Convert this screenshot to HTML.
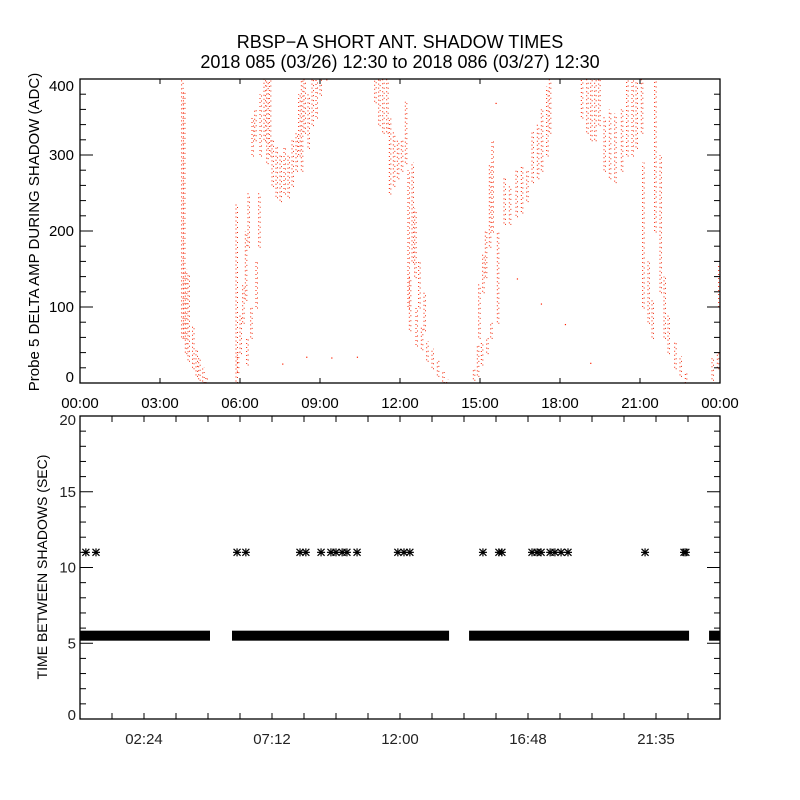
<!DOCTYPE html>
<html><head><meta charset="utf-8"><style>
body{margin:0;background:#fff;}
svg{display:block;font-family:"Liberation Sans",sans-serif;}
</style></head><body>
<svg id="chart" width="800" height="800" viewBox="0 0 800 800">
<defs><clipPath id="topClip"><rect x="80" y="79" width="640" height="304"/></clipPath></defs>
<text x="400" y="48" text-anchor="middle" font-size="18">RBSP−A SHORT ANT. SHADOW TIMES</text>
<text x="400" y="68" text-anchor="middle" font-size="18">2018 085 (03/26) 12:30 to 2018 086 (03/27) 12:30</text>
<g id="topPanel"></g>
<g id="botPanel"></g>
</svg>
<script>
// ---- top panel data: streaks of shadow amplitude (hour, low ADC, high ADC)
const streakHours = [3.81,3.88,3.95,4.05,4.22,4.35,4.45,4.6,4.72,
 5.85,5.9,6.0,6.1,6.2,6.3,6.25,6.4,6.6,6.7,6.45,6.55,6.75,6.9,7.0,7.1,
 7.2,7.35,7.5,7.65,7.8,7.95,8.1,8.2,8.3,8.4,8.55,8.7,8.85,9.0,9.2,
 11.05,11.2,11.35,11.5,11.6,11.75,11.9,12.05,12.2,12.3,12.45,12.55,12.35,12.6,12.8,12.7,12.9,13.0,13.2,13.4,13.6,13.75,
 14.75,14.9,15.05,15.25,15.4,14.95,15.1,15.2,15.35,15.45,15.65,15.9,16.1,16.35,16.55,16.75,16.95,17.15,17.3,17.5,17.6,
 18.8,19.0,19.15,19.3,19.45,19.65,19.85,20.05,20.3,20.5,20.7,20.85,21.05,
 21.1,21.3,21.45,21.55,21.75,21.9,22.05,22.3,22.5,22.7,23.7,23.9,23.95];
const streakLows = [60,60,40,30,20,10,5,2,0,
 2,15,40,80,110,180,25,60,100,180,300,320,300,320,290,300,
 260,245,240,250,245,260,280,300,280,330,310,340,350,380,400,
 370,340,330,330,250,260,270,280,290,100,160,140,70,50,45,100,70,30,20,10,2,0,
 5,10,25,40,60,60,120,140,180,200,80,210,210,220,225,240,265,270,280,300,330,
 350,330,320,320,340,280,270,265,280,300,300,310,330,
 100,80,60,200,120,60,40,20,10,0,5,20,100];
const streakHighs = [400,385,150,145,75,45,35,20,8,
 235,40,90,130,200,250,60,100,160,250,350,360,380,400,405,400,
 320,310,300,310,300,320,330,380,400,410,380,400,410,410,410,
 400,400,400,400,350,330,320,320,370,280,290,230,140,100,75,160,120,55,45,30,15,5,
 20,50,55,60,80,130,170,200,290,320,200,270,260,280,285,280,330,340,360,390,400,
 400,400,400,400,400,350,360,355,360,400,400,400,400,
 290,160,110,400,300,140,90,55,35,15,35,40,155];
// isolated points
const isoHours = [7.6,8.5,9.44,10.4,15.6,16.4,17.3,18.2,19.15];
const isoValues = [25,34,33,34,368,137,104,77,26];
// ---- bottom panel data
const segStart = [0,5.7,14.59,23.59];
const segEnd = [4.875,13.84,22.84,24];
const baseInterval = 5.5;
const longHours = [0.22,0.6,5.89,6.22,8.25,8.47,9.04,9.41,9.6,9.83,10.01,10.39,11.92,12.15,12.37,15.11,15.71,15.82,16.95,17.14,17.29,17.63,17.81,18.04,18.3,21.19,22.65,22.72];
const longValues = [11,11,11,11,11,11,11,11,11,11,11,11,11,11,11,11,11,11,11,11,11,11,11,11,11,11,11,11];
const topXTicks = ["00:00","03:00","06:00","09:00","12:00","15:00","18:00","21:00","00:00"];
const topYTicks = [0,100,200,300,400];
const botXTicks = ["02:24","07:12","12:00","16:48","21:35"];
const botYTicks = [0,5,10,15,20];

const NS="http://www.w3.org/2000/svg";
function mk(tag,attrs,parent){const e=document.createElementNS(NS,tag);for(const k in attrs)e.setAttribute(k,attrs[k]);parent.appendChild(e);return e;}
const L=80,R=720;
const xS=h=>L+(R-L)*h/24;
// top panel
const topG=document.getElementById('topPanel');
const T0=79,T1=383;
const yT=v=>T1-(T1-T0)*v/400;
const dataG=mk('g',{'clip-path':'url(#topClip)'},topG);


streakHours.forEach((h,i)=>{
 const x=xS(h);
 [0,1.5].forEach((dx,k)=>{
  const ln=mk('line',{x1:x+dx,x2:x+dx,y1:yT(streakLows[i])+k*1.5,y2:yT(streakHighs[i]),stroke:k===1?'#e83010':'#ff2000','stroke-width':1,'stroke-dasharray':k===0?'1 3':'1 4'},dataG);
  
  
 });
});
isoHours.forEach((h,i)=>{
 const r=mk('rect',{x:xS(h)-0.5,y:yT(isoValues[i])-0.5,width:1.2,height:1.2,fill:'#ff2000'},dataG);
 
 });
let fr=mk('rect',{x:L,y:T0,width:R-L,height:T1-T0,fill:'none',stroke:'#000','stroke-width':1.3},topG);


for(let v=0;v<=400;v+=20){const len=v%100===0?13:6;
 mk('line',{x1:L,x2:L+len,y1:yT(v),y2:yT(v),stroke:'#000'},topG);
 mk('line',{x1:R,x2:R-len,y1:yT(v),y2:yT(v),stroke:'#000'},topG);}
topYTicks.forEach(v=>{let yy=yT(v)+5; if(v===400)yy=yT(v)+12; if(v===0)yy=yT(v)-1;
 const t=mk('text',{x:74,y:yy,'text-anchor':'end','font-size':15},topG);t.textContent=v;
 
 });
topXTicks.forEach((s,i)=>{const x=xS(i*3);
 mk('line',{x1:x,x2:x,y1:T1,y2:T1-5,stroke:'#000'},topG);
 mk('line',{x1:x,x2:x,y1:T0,y2:T0+5,stroke:'#000'},topG);
 const t=mk('text',{x:x,y:408,'text-anchor':'middle','font-size':15},topG);t.textContent=s;
 
 });
let yl=mk('text',{x:0,y:0,'text-anchor':'middle','font-size':15,transform:'translate(39,232) rotate(-90)'},topG);
yl.textContent='Probe 5 DELTA AMP DURING SHADOW (ADC)';


// bottom panel
const botG=document.getElementById('botPanel');
const B0=416,B1=719;
const yB=v=>B1-(B1-B0)*v/20;
let fr2=mk('rect',{x:L,y:B0,width:R-L,height:B1-B0,fill:'none',stroke:'#000','stroke-width':1.3},botG);


for(let v=0;v<=20;v++){const len=v%5===0?13:6;
 mk('line',{x1:L,x2:L+len,y1:yB(v),y2:yB(v),stroke:'#000'},botG);
 mk('line',{x1:R,x2:R-len,y1:yB(v),y2:yB(v),stroke:'#000'},botG);}
botYTicks.forEach(v=>{let yy=yB(v)+5; if(v===20)yy=yB(v)+9; if(v===0)yy=yB(v)+1;
 const t=mk('text',{x:76,y:yy,'text-anchor':'end','font-size':15,fill:'#222'},botG);t.textContent=v;
 
 });
for(let k=1;k<20;k++){const x=xS(k*1.2);
 mk('line',{x1:x,x2:x,y1:B1,y2:B1-6,stroke:'#000'},botG);
 mk('line',{x1:x,x2:x,y1:B0,y2:B0+6,stroke:'#000'},botG);}
botXTicks.forEach((s,i)=>{const x=xS(2.4+i*4.8);
 const t=mk('text',{x:x,y:744,'text-anchor':'middle','font-size':15,fill:'#222'},botG);t.textContent=s;
 
 });
let yl2=mk('text',{x:0,y:0,'text-anchor':'middle','font-size':14,transform:'translate(47,567) rotate(-90)'},botG);
yl2.textContent='TIME BETWEEN SHADOWS (SEC)';


segStart.forEach((s,i)=>{
 const x0=xS(s),x1=Math.min(xS(segEnd[i]),R);
 const r=mk('rect',{x:x0,y:yB(baseInterval)-5,width:x1-x0,height:10,fill:'#000'},botG);
 
 });
function star(x,y){
 const g=mk('g',{stroke:'#000','stroke-width':1.2},botG);
 
 
 mk('line',{x1:x-4,x2:x+4,y1:y,y2:y},g);
 mk('line',{x1:x,x2:x,y1:y-4,y2:y+4},g);
 mk('line',{x1:x-3.5,x2:x+3.5,y1:y-3.5,y2:y+3.5},g);
 mk('line',{x1:x-3.5,x2:x+3.5,y1:y+3.5,y2:y-3.5},g);}
longHours.forEach((h,i)=>star(xS(h),yB(longValues[i])));
</script>
</body></html>
